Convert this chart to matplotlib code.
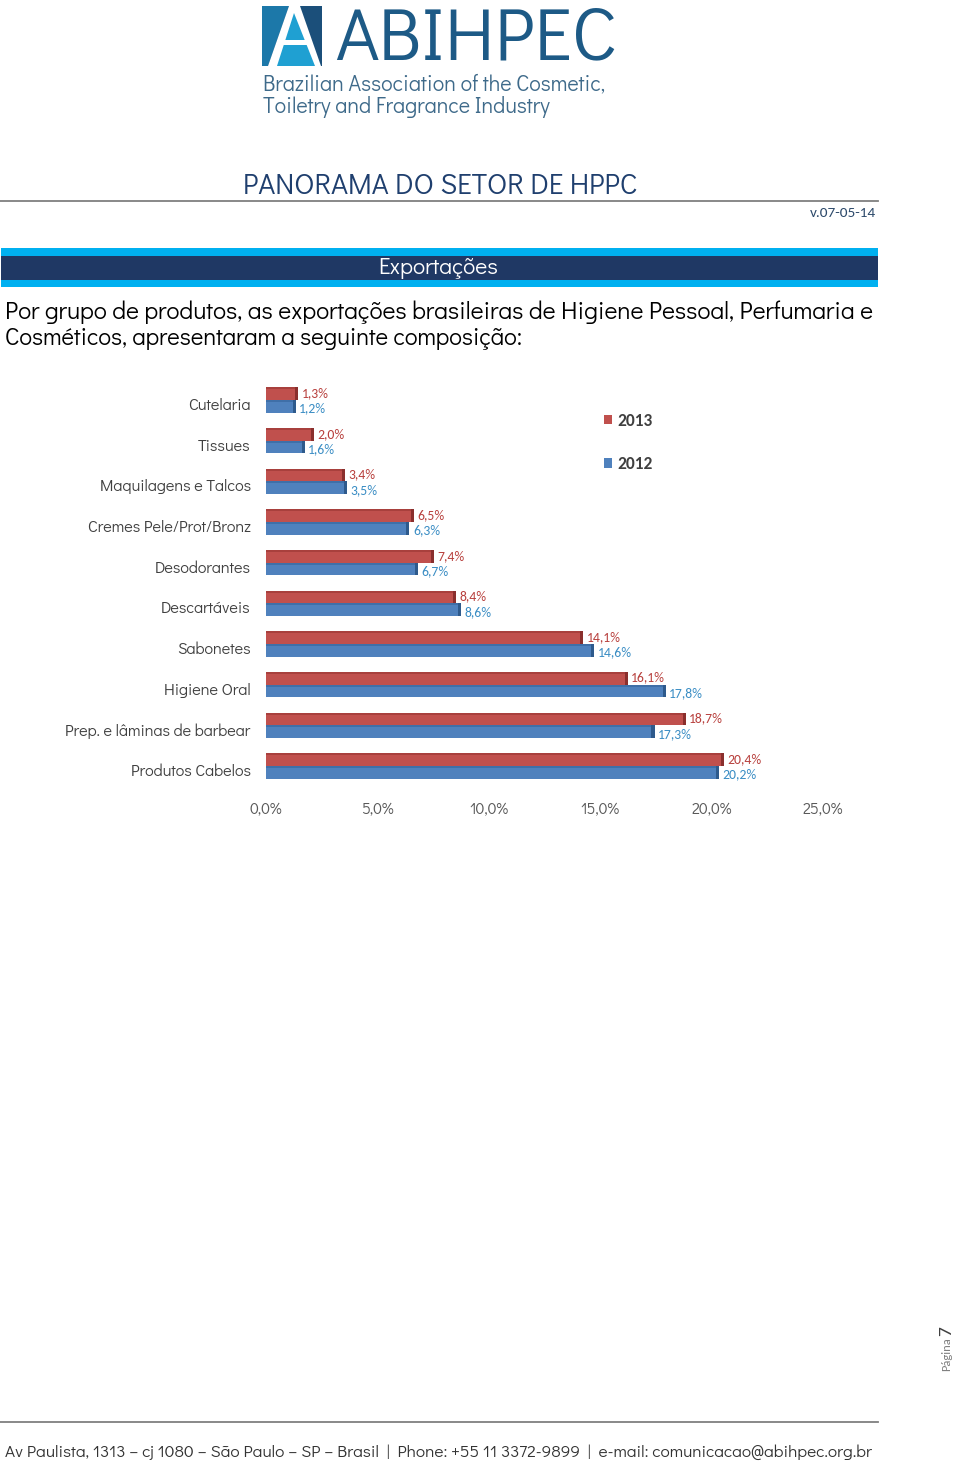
import matplotlib
matplotlib.use('Agg')
import matplotlib.pyplot as plt
from matplotlib.patches import Rectangle, Polygon
from matplotlib.lines import Line2D
from matplotlib.transforms import ScaledTranslation
import numpy as np

# ---------------- data ----------------
categories = ["Cutelaria", "Tissues", "Maquilagens e Talcos", "Cremes Pele/Prot/Bronz",
              "Desodorantes", "Descartáveis", "Sabonetes", "Higiene Oral",
              "Prep. e lâminas de barbear", "Produtos Cabelos"]
values_2013 = [1.3, 2.0, 3.4, 6.5, 7.4, 8.4, 14.1, 16.1, 18.7, 20.4]
values_2012 = [1.2, 1.6, 3.5, 6.3, 6.7, 8.6, 14.6, 17.8, 17.3, 20.2]
series_labels = ["2013", "2012"]
x_ticks = [0, 5, 10, 15, 20, 25]
x_tick_labels = ["0,0%", "5,0%", "10,0%", "15,0%", "20,0%", "25,0%"]

W, H = 960, 1464
fig = plt.figure(figsize=(W / 100, H / 100), dpi=100)
fig.patch.set_facecolor('white')

def fx(x):
    return x / W

def fy(y):
    return 1 - y / H

GOTH = ['Didact Gothic', 'DejaVu Sans']
CALI = ['Carlito', 'DejaVu Sans']

# ---------------- header logo ----------------
fig.patches.append(Rectangle((fx(262), fy(66)), fx(60), 60 / H, transform=fig.transFigure,
                             facecolor='#1B4F7A', edgecolor='none'))
def poly(pts, color):
    fig.patches.append(Polygon([(fx(x), fy(y)) for x, y in pts], closed=True,
                               transform=fig.transFigure, facecolor=color, edgecolor='none'))
poly([(262, 6), (289, 6), (268, 66), (262, 66)], '#1C78A9')
poly([(268, 66), (289, 6), (300, 6), (321, 66)], 'white')
poly([(277, 66), (294, 13), (315, 66)], '#1FA0D2')
poly([(283, 40), (306, 40), (308, 45), (281, 45)], 'white')

fig.text(fx(476.5), fy(40), "ABIHPEC", fontsize=53.5, color='#1D5A86', ha='center', va='center',
         family=GOTH)
fig.text(fx(263), fy(85), "Brazilian Association of the Cosmetic,", fontsize=15.5,
         color='#3E6A8A', ha='left', va='center', family=GOTH)
fig.text(fx(263), fy(107), "Toiletry and Fragrance Industry", fontsize=15.5,
         color='#3E6A8A', ha='left', va='center', family=GOTH)

# ---------------- title ----------------
fig.text(fx(440), fy(186), "PANORAMA DO SETOR DE HPPC", fontsize=20.8, color='#1F3F6E',
         ha='center', va='center', family=GOTH)
fig.lines.append(Line2D([fx(0), fx(878)], [fy(201), fy(201)], transform=fig.transFigure,
                        color='#7F7F7F', lw=1.3))
fig.text(fx(876), fy(213), "v.07-05-14", fontsize=11, color='#2D4A6B', ha='right',
         va='center', family=CALI)

# ---------------- banner ----------------
fig.patches.append(Rectangle((fx(1), fy(287)), fx(877), 39 / H, transform=fig.transFigure,
                             facecolor='#00B0F0', edgecolor='none'))
fig.patches.append(Rectangle((fx(1), fy(280)), fx(877), 24 / H, transform=fig.transFigure,
                             facecolor='#1F3864', edgecolor='none'))
fig.text(fx(438), fy(268), "Exportações", fontsize=16.5, color='white', ha='center',
         va='center', family=GOTH)

# ---------------- paragraph ----------------
fig.text(fx(5), fy(312), "Por grupo de produtos, as exportações brasileiras de Higiene Pessoal, Perfumaria e",
         fontsize=17.6, color='black', ha='left', va='center', family=GOTH)
fig.text(fx(5), fy(338), "Cosméticos, apresentaram a seguinte composição:",
         fontsize=17.2, color='black', ha='left', va='center', family=GOTH)

# ---------------- chart ----------------
ax_left, ax_right = 266, 823
ax_top, ax_bottom = 379.7, 786.3
ax = fig.add_axes([fx(ax_left), fy(ax_bottom), (ax_right - ax_left) / W, (ax_bottom - ax_top) / H])
ax.set_facecolor('none')

red, blue = '#C0504D', '#4F81BD'
red_side, blue_side = '#8A2F2D', '#2E5A8C'
red_top, blue_top = '#A8403D', '#3F6FA8'
red_txt, blue_txt = '#B8403D', '#3A8DC4'
y = np.arange(len(categories))
h = 0.31
side = 0.14
top = 0.05

b13 = ax.barh(y - h / 2, values_2013, height=h, color=red, label=series_labels[0])
b12 = ax.barh(y + h / 2, values_2012, height=h, color=blue, label=series_labels[1])
# subtle 3D faces: darker right side and top edge
ax.barh(y - h / 2, [side] * len(y), left=values_2013, height=h, color=red_side)
ax.barh(y + h / 2, [side] * len(y), left=values_2012, height=h, color=blue_side)
ax.barh(y - h + top / 2, values_2013, height=top, color=red_top)
ax.barh(y + top / 2, values_2012, height=top, color=blue_top)

for yi, v in zip(y, values_2013):
    ax.annotate(f"{v:.1f}%".replace('.', ','), (v + side, yi - h / 2), xytext=(2.5, 0.5),
                textcoords='offset points', ha='left', va='center', fontsize=9.9,
                color=red_txt, family=CALI)
for yi, v in zip(y, values_2012):
    ax.annotate(f"{v:.1f}%".replace('.', ','), (v + side, yi + h / 2), xytext=(2.5, -1.5),
                textcoords='offset points', ha='left', va='center', fontsize=9.9,
                color=blue_txt, family=CALI)

ax.set_xlim(0, 25)
ax.set_ylim(len(categories) - 0.5, -0.5)
ax.set_xticks(x_ticks)
ax.set_xticklabels(x_tick_labels, fontsize=11.4, color='#595959', family=GOTH)
ax.set_yticks(y)
ax.set_yticklabels(categories, fontsize=11.7, color='#404040', family=GOTH)
ax.tick_params(axis='both', length=0)
ax.tick_params(axis='y', pad=11)
ax.tick_params(axis='x', pad=11)
for lab in ax.get_yticklabels():
    lab.set_transform(lab.get_transform() + ScaledTranslation(0, -4 / 100, fig.dpi_scale_trans))
for s in ax.spines.values():
    s.set_visible(False)

fig.legend(handles=[b13, b12], labels=series_labels, loc='upper left',
           bbox_to_anchor=(fx(595), fy(404)), frameon=False,
           prop={'family': CALI, 'weight': 'bold', 'size': 12.5},
           handlelength=0.5, handleheight=0.5, handletextpad=0.3, labelspacing=1.58,
           borderpad=0, labelcolor='#404040')

# ---------------- footer ----------------
fig.text(fx(946), fy(1331), "7", fontsize=14, color='#404040', rotation=90, ha='center',
         va='center', family=CALI)
fig.text(fx(947), fy(1354), "Página", fontsize=9, color='#7F7F7F', rotation=90, ha='center',
         va='center', family=CALI)
fig.lines.append(Line2D([fx(0), fx(878)], [fy(1422), fy(1422)], transform=fig.transFigure,
                        color='#7F7F7F', lw=1.3))
fig.text(fx(5), fy(1452),
         "Av Paulista, 1313 – cj 1080 – São Paulo – SP – Brasil  |  Phone: +55 11 3372-9899  |  e-mail: comunicacao@abihpec.org.br",
         fontsize=12.4, color='#333333', ha='left', va='center', family=GOTH)

fig.savefig('out.png', dpi=100)
